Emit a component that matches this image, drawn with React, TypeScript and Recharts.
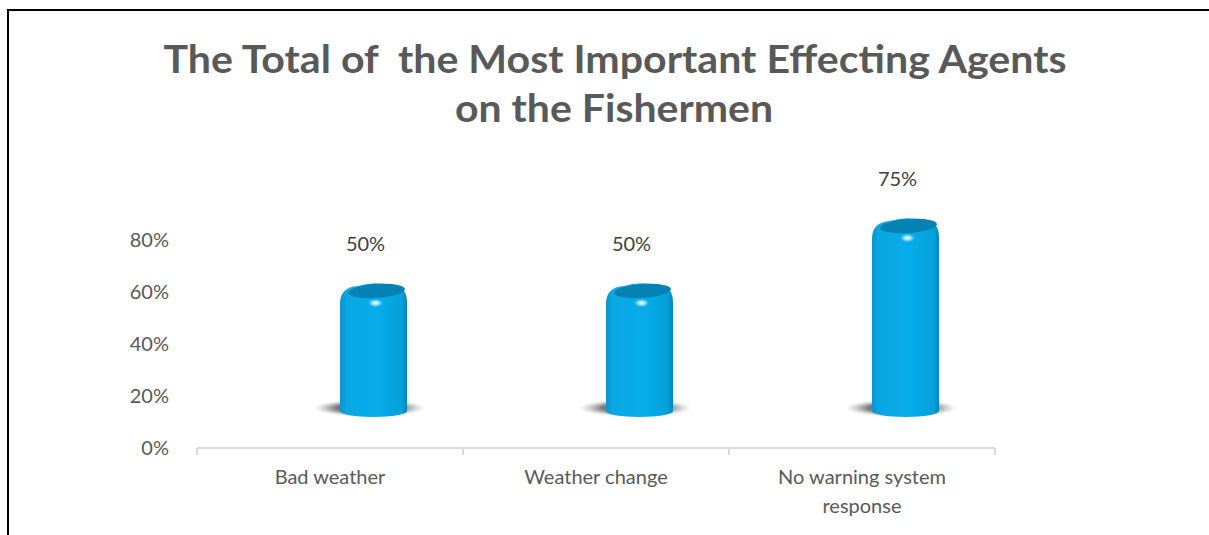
import { BarChart, Bar, XAxis, YAxis, LabelList } from 'recharts';

const categories = ['Bad weather', 'Weather change', 'No warning system response'];
const shares = [50, 50, 75];
const yTicks = [0, 20, 40, 60, 80];
const titleLines = ['The Total of  the Most Important Effecting Agents', 'on the Fishermen'];

const chartData = categories.map((name, i) => ({ name, value: shares[i] }));

// perspective shift of the 3D cylinders relative to the category slot
const DX = 43;
const DY = -32;
const textColor = '#595959';
const font = 'Lato, "Open Sans", sans-serif';

const Cylinder = (props: any) => {
  const { x, y, width, height, index } = props;
  const cx = x + width / 2 + DX;
  const rx = width / 2;
  const left = cx - rx;
  const right = cx + rx;
  const top = y + DY;
  const bottom = y + height + DY;
  const r = 16;
  const body = [
    `M ${left} ${bottom - 5}`,
    `L ${left} ${top + r + 2}`,
    `Q ${left} ${top + 1} ${left + r + 2} ${top}`,
    `Q ${cx} ${top - 5} ${right - r} ${top - 1}`,
    `Q ${right} ${top} ${right} ${top + r}`,
    `L ${right} ${bottom - 5}`,
    `A ${rx} 6 0 0 1 ${left} ${bottom - 5}`,
    'Z',
  ].join(' ');
  return (
    <g>
      <defs>
        <linearGradient id={`cyl-body-${index}`} x1="0" y1="0" x2="1" y2="0">
          <stop offset="0%" stopColor="#0a94cb" />
          <stop offset="10%" stopColor="#0aa8e3" />
          <stop offset="60%" stopColor="#05ace9" />
          <stop offset="92%" stopColor="#04a0d9" />
          <stop offset="100%" stopColor="#0686b9" />
        </linearGradient>
        <radialGradient id={`cyl-shadow-${index}`} cx="48%" cy="50%" r="50%">
          <stop offset="0%" stopColor="#2e2e2e" stopOpacity={0.95} />
          <stop offset="60%" stopColor="#555555" stopOpacity={0.75} />
          <stop offset="100%" stopColor="#b0b0b0" stopOpacity={0} />
        </radialGradient>
        <radialGradient id={`cyl-hi-${index}`} cx="50%" cy="50%" r="50%">
          <stop offset="0%" stopColor="#ffffff" stopOpacity={1} />
          <stop offset="45%" stopColor="#bfeeff" stopOpacity={0.8} />
          <stop offset="100%" stopColor="#3fc4f5" stopOpacity={0} />
        </radialGradient>
      </defs>
      <ellipse cx={cx - 2} cy={bottom - 8} rx={rx + 23} ry={9} fill={`url(#cyl-shadow-${index})`} />
      <path d={body} fill={`url(#cyl-body-${index})`} />
      <ellipse
        cx={cx + 3}
        cy={top + 5}
        rx={rx - 5}
        ry={7}
        fill="#0482b4"
        transform={`rotate(-4 ${cx + 3} ${top + 5})`}
      />
      <ellipse cx={cx + 2} cy={top + 17} rx={8} ry={4.5} fill={`url(#cyl-hi-${index})`} />
    </g>
  );
};

const ValueLabel = (props: any) => {
  const { x, y, width, value } = props;
  return (
    <text
      x={x + width / 2 + DX - 8}
      y={y + DY - 43}
      textAnchor="middle"
      dominantBaseline="central"
      fill="#404040"
      fontSize={20}
      fontFamily={font}
    >
      {`${value}%`}
    </text>
  );
};

const CategoryTick = (props: any) => {
  const { x, y, payload } = props;
  const words: string[] = payload.value.split(' ');
  const lines = payload.value.length > 16 ? [words.slice(0, 3).join(' '), words.slice(3).join(' ')] : [payload.value];
  return (
    <text x={x} y={y} textAnchor="middle" fill={textColor} fontSize={20} fontFamily={font}>
      {lines.map((line, i) => (
        <tspan key={i} x={x} dy={i === 0 ? 28 : 29}>
          {line}
        </tspan>
      ))}
    </text>
  );
};

const App = () => {
  return (
    <div style={{ position: 'absolute', left: 0, top: 0, width: 1209, height: 535, overflow: 'hidden', background: '#fff' }}>
      <div
        style={{
          position: 'absolute',
          left: 7,
          top: 9,
          width: 1300,
          height: 700,
          border: '2px solid #000',
        }}
      />
      <svg width={1209} height={140} style={{ position: 'absolute', left: 0, top: 0 }}>
        <text
          x={615}
          y={73}
          textAnchor="middle"
          fill={textColor}
          fontSize={39}
          fontWeight={700}
          fontFamily={font}
          textLength={903}
          lengthAdjust="spacingAndGlyphs"
          style={{ whiteSpace: 'pre' }}
        >
          {titleLines[0]}
        </text>
        <text
          x={614}
          y={122}
          textAnchor="middle"
          fill={textColor}
          fontSize={39}
          fontWeight={700}
          fontFamily={font}
          textLength={318}
          lengthAdjust="spacingAndGlyphs"
        >
          {titleLines[1]}
        </text>
      </svg>
      <div style={{ position: 'absolute', left: 0, top: 0 }}>
        <BarChart
          width={1209}
          height={535}
          data={chartData}
          margin={{ top: 240, right: 214, left: 0, bottom: 0 }}
          barSize={67}
        >
          <XAxis
            dataKey="name"
            height={87}
            axisLine={{ stroke: '#d9d9d9', strokeWidth: 2 }}
            tickLine={false}
            tick={<CategoryTick />}
            interval={0}
          />
          <YAxis
            width={197}
            domain={[0, 80]}
            ticks={yTicks}
            axisLine={false}
            tickLine={false}
            tickMargin={22}
            tickFormatter={(v: number) => `${v}%`}
            tick={{ fill: textColor, fontSize: 20, fontFamily: font }}
          />
          <Bar dataKey="value" shape={<Cylinder />} isAnimationActive={false}>
            <LabelList dataKey="value" content={<ValueLabel />} />
          </Bar>
        </BarChart>
      </div>
      <svg width={1209} height={535} style={{ position: 'absolute', left: 0, top: 0, pointerEvents: 'none' }}>
        {[197, 463, 729, 995].map((tx) => (
          <line key={tx} x1={tx} x2={tx} y1={448} y2={455} stroke="#d9d9d9" strokeWidth={2} />
        ))}
      </svg>
    </div>
  );
};

export default App;
